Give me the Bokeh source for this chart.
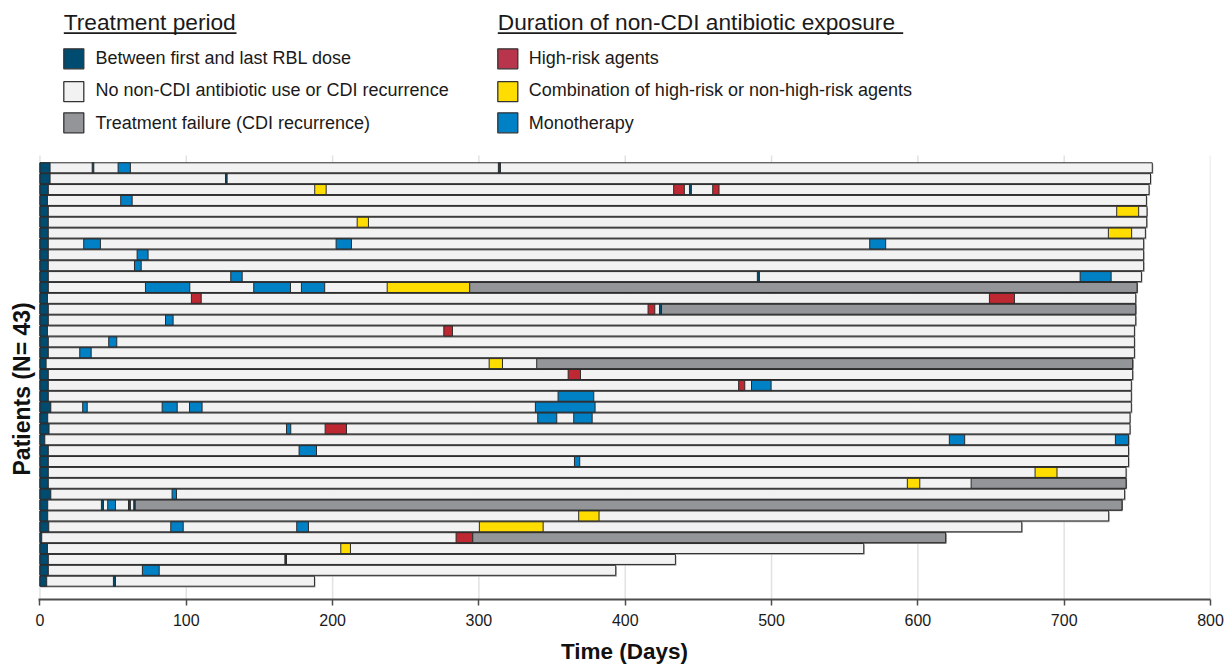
import numpy as np
from bokeh.plotting import figure
from bokeh.models import Range1d, FixedTicker, Title
from bokeh.embed import file_html
from bokeh.resources import INLINE
from bokeh.core.properties import value

# ---------------- data ----------------
# day at which each patient's follow-up ends (top patient first)
end_day = [760.2, 759.0, 758.0, 756.2, 756.6, 756.4, 755.5, 754.3, 754.3, 754.3,
           752.8, 749.8, 748.9, 748.9, 748.9, 748.0, 748.0, 748.0, 746.8, 746.8,
           745.9, 745.9, 745.9, 745.0, 745.0, 744.0, 744.0, 744.0, 742.3, 742.3,
           741.3, 739.5, 730.4, 671.0, 619.0, 563.0, 434.3, 393.5, 187.6]
# last RBL dose (days)
rbl_end = [6.9, 6.9, 5.7, 5.1, 5.7, 5.7, 5.7, 5.7, 5.7, 5.7,
           5.7, 5.7, 5.1, 5.7, 5.7, 5.1, 5.7, 5.7, 4.2, 5.7,
           5.7, 5.7, 7.4, 5.3, 6.2, 3.3, 5.7, 5.7, 5.7, 5.7,
           7.4, 5.3, 5.3, 6.0, 1.2, 5.1, 5.7, 5.7, 4.6]

# episodes: patient row, start day, stop day, kind
seg_patient = [1, 1, 1,
               2,
               3, 3, 3, 3,
               4, 5, 6, 7,
               8, 8, 8,
               9, 10,
               11, 11, 11,
               12, 12, 12, 12, 12,
               13, 13,
               14, 14, 14,
               15, 16, 17, 18,
               19, 19,
               20,
               21, 21,
               22,
               23, 23, 23, 23,
               24, 24,
               25, 25,
               26, 26,
               27, 28, 29,
               30, 30,
               31,
               32, 32, 32, 32, 32,
               33,
               34, 34, 34,
               35, 35,
               36, 37, 38, 39]
seg_start = [35.7, 53.4, 313.3,
             126.8,
             187.8, 433.1, 443.9, 459.8,
             55.2, 735.9, 216.8, 730.2,
             29.9, 202.4, 567.1,
             66.4, 64.6,
             130.4, 490.3, 710.9,
             72.1, 146.1, 178.7, 237.3, 293.7,
             103.5, 648.9,
             415.6, 423.4, 424.8,
             85.8, 276.0, 47.0, 27.2,
             307.0, 339.5,
             361.0,
             477.5, 486.3,
             354.1,
             29.2, 83.5, 102.2, 338.6,
             340.2, 364.8,
             168.5, 194.9,
             621.5, 735.0,
             177.1, 365.3, 680.1,
             592.8, 636.4,
             90.3,
             42.0, 46.3, 60.5, 64.1, 65.1,
             368.2,
             89.4, 175.5, 300.3,
             284.4, 295.8,
             205.6, 167.4, 70.0, 50.2]
seg_stop = [36.8, 61.8, 314.7,
            127.9,
            195.6, 440.4, 445.2, 464.1,
            63.0, 750.9, 224.5, 746.1,
            41.3, 212.9, 578.0,
            73.9, 69.2,
            138.2, 491.7, 732.1,
            102.4, 171.2, 194.6, 293.7, 749.8,
            110.2, 666.0,
            420.2, 424.8, 748.9,
            91.0, 281.9, 52.5, 35.0,
            316.1, 746.8,
            369.4,
            481.7, 499.7,
            378.5,
            32.3, 93.8, 110.8, 379.4,
            353.2, 377.4,
            171.4, 209.5,
            632.0, 744.0,
            189.0, 368.9, 695.1,
            601.3, 742.3,
            93.3,
            43.4, 51.6, 61.8, 65.1, 739.5,
            382.1,
            97.9, 183.5, 343.9,
            295.8, 619.0,
            212.2, 168.5, 81.5, 51.6]
seg_type = ["dose", "mono", "dose",
            "dose",
            "combo", "high", "dose", "high",
            "mono", "combo", "combo", "combo",
            "mono", "mono", "mono",
            "mono", "mono",
            "mono", "dose", "mono",
            "mono", "mono", "mono", "combo", "fail",
            "high", "high",
            "high", "dose", "fail",
            "mono", "high", "mono", "mono",
            "combo", "fail",
            "high",
            "high", "mono",
            "mono",
            "mono", "mono", "mono", "mono",
            "mono", "mono",
            "mono", "high",
            "mono", "mono",
            "mono", "mono", "combo",
            "combo", "fail",
            "mono",
            "dose", "mono", "dose", "dose", "fail",
            "combo",
            "mono", "mono", "combo",
            "high", "fail",
            "combo", "dose", "mono", "dose"]

x_ticks = [0, 100, 200, 300, 400, 500, 600, 700, 800]

legend1_title = "Treatment period"
legend1_labels = ["Between first and last RBL dose",
                  "No non-CDI antibiotic use or CDI recurrence",
                  "Treatment failure (CDI recurrence)"]
legend2_title = "Duration of non-CDI antibiotic exposure"
legend2_labels = ["High-risk agents",
                  "Combination of high-risk or non-high-risk agents",
                  "Monotherapy"]

# ---------------- style ----------------
FONT = "Liberation Sans"
C_RBL = "#004b70"
C_NONE = "#f2f2f2"
C_FAIL = "#939598"
C_HIGH = "#be2832"
C_COMBO = "#ffdd00"
C_MONO = "#0080c5"
C_EDGE = "#2b2b2b"
TXT = "#1a1a1a"
type_color = {"dose": C_RBL, "fail": C_FAIL, "high": C_HIGH,
              "combo": C_COMBO, "mono": C_MONO}
legend1_colors = [C_RBL, C_NONE, C_FAIL]
legend2_colors = ["#b9354c", C_COMBO, C_MONO]

W, H = 1225, 666
FL, FR, FB = 38, 1210, 599          # frame left / right / bottom (px)
X0, X1 = -1.0, 800.0
SX = (FR - FL) / (X1 - X0)          # px per day
PITCH = 10.879                      # px per patient row
Y_TOP = 1 - 167.3 / PITCH           # row value at the top of the frame
Y_BOT = Y_TOP + FB / PITCH


def px2x(px):
    return X0 + (px - FL) / SX


def py2y(py):
    return Y_TOP + py / PITCH


p = figure(width=W, height=H, x_range=Range1d(X0, X1), y_range=Range1d(Y_BOT, Y_TOP),
           output_backend="svg", toolbar_location=None,
           min_border_left=FL, min_border_right=W - FR, min_border_top=0,
           min_border_bottom=H - FB)
p.outline_line_color = None
p.grid.visible = False
p.yaxis.visible = False

# ---------------- legend (inside the canvas, above the bars) ----------------
p.text(x=[px2x(63.3), px2x(497.3)], y=[py2y(21.0)] * 2,
       text=[legend1_title, legend2_title],
       text_font=value(FONT), text_font_size="22.7px", text_baseline="middle",
       text_color=TXT)
p.segment(x0=[px2x(63.3), px2x(497.3)], y0=[py2y(32.6)] * 2,
          x1=[px2x(236.0), px2x(902.7)], y1=[py2y(32.6)] * 2,
          line_color=TXT, line_width=1.6)

sw_left = [63.3, 497.3]
tx_left = [95.0, 528.3]
sw_mid = [58.3, 91.2, 122.3]
tx_mid = [57.3, 89.8, 122.0]
for ci, (labels, colors) in enumerate([(legend1_labels, legend1_colors),
                                       (legend2_labels, legend2_colors)]):
    p.quad(left=[px2x(sw_left[ci])] * 3, right=[px2x(sw_left[ci] + 20)] * 3,
           top=[py2y(m - 10) for m in sw_mid], bottom=[py2y(m + 10) for m in sw_mid],
           fill_color=colors, line_color="#333333", line_width=1.3)
    p.text(x=[px2x(tx_left[ci])] * 3, y=[py2y(b) for b in tx_mid], text=labels,
           text_font=value(FONT), text_font_size="18px",
           text_baseline="middle", text_color=TXT)

# ---------------- grid lines (only in the bar area) ----------------
p.segment(x0=x_ticks, x1=x_ticks, y0=[py2y(155)] * len(x_ticks),
          y1=[Y_BOT] * len(x_ticks), line_color="#e2e2e2", line_width=1.5)

# ---------------- swimmer bars ----------------
n = len(end_day)
rows = np.arange(1, n + 1)
h = 0.46
ends = np.array(end_day)
# drop shadow
p.quad(left=np.full(n, 0.7), right=ends + 0.7, top=rows - h + 0.12,
       bottom=rows + h + 0.12, fill_color="#a3a3a3", line_color=None)
# base bars
p.quad(left=np.zeros(n), right=ends, top=rows - h, bottom=rows + h,
       fill_color=C_NONE, line_color=C_EDGE, line_width=1)
# RBL dosing period
p.quad(left=np.zeros(n), right=np.array(rbl_end), top=rows - h, bottom=rows + h,
       fill_color=C_RBL, line_color=C_EDGE, line_width=1)
# episodes
sp = np.array(seg_patient)
p.quad(left=np.array(seg_start), right=np.array(seg_stop), top=sp - h, bottom=sp + h,
       fill_color=[type_color[t] for t in seg_type], line_color=C_EDGE, line_width=1)

# ---------------- axes ----------------
p.xaxis.ticker = FixedTicker(ticks=x_ticks)
p.xaxis.axis_line_width = 2
p.xaxis.axis_line_color = "#4d4d4d"
p.xaxis.major_tick_line_color = "#4d4d4d"
p.xaxis.major_tick_line_width = 1.5
p.xaxis.major_tick_out = 6
p.xaxis.major_tick_in = 0
p.xaxis.minor_tick_line_color = None
p.xaxis.major_label_text_font = FONT
p.xaxis.major_label_text_font_size = "16px"
p.xaxis.major_label_text_color = TXT
p.xaxis.major_label_standoff = 8
p.xaxis.axis_label = "Time (Days)"
p.xaxis.axis_label_text_font = FONT
p.xaxis.axis_label_text_font_size = "22.5px"
p.xaxis.axis_label_text_font_style = "bold"
p.xaxis.axis_label_text_color = "#111111"
p.xaxis.axis_label_standoff = 10

ylab = Title(text="Patients (N= 43)", align="left", offset=124,
             vertical_align="middle", text_font=FONT, text_font_size="23px",
             text_font_style="bold", text_color="#111111", standoff=6)
p.add_layout(ylab, "left")

open("out.html", "w").write(file_html(p, INLINE))
